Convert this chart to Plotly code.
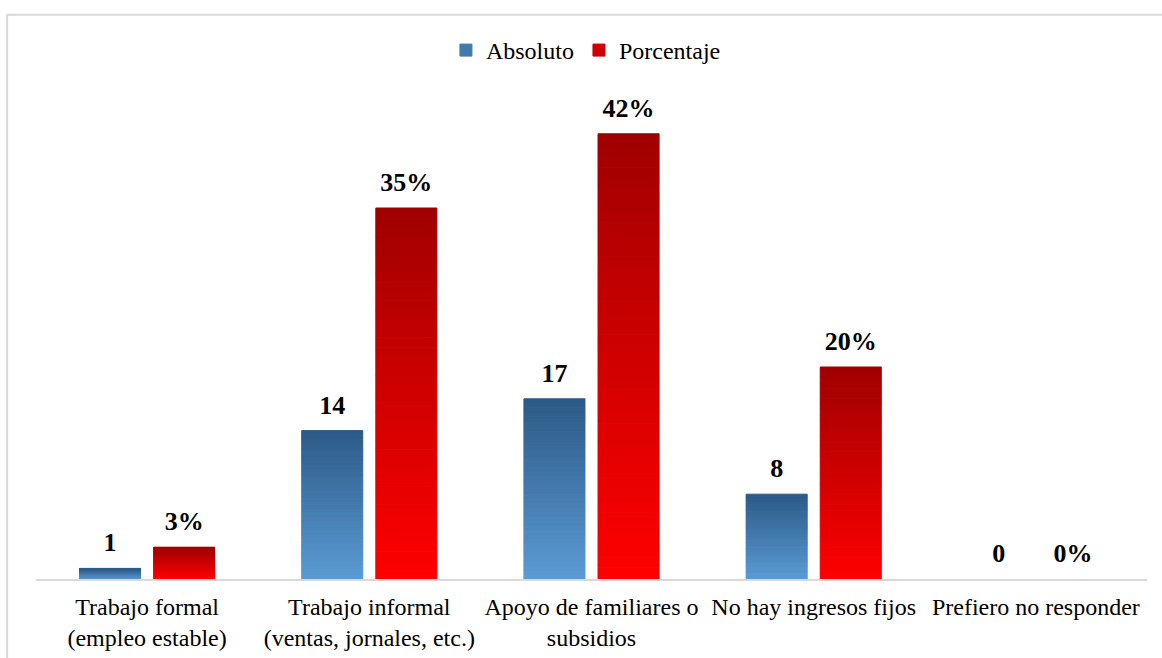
import plotly.graph_objects as go

categories = [
    "Trabajo formal<br>(empleo estable)",
    "Trabajo informal<br>(ventas, jornales, etc.)",
    "Apoyo de familiares o<br>subsidios",
    "No hay ingresos fijos",
    "Prefiero no responder",
]
absoluto = [1, 14, 17, 8, 0]
porcentaje = [3, 35, 42, 20, 0]
absoluto_labels = ["1", "14", "17", "8", "0"]
porcentaje_labels = ["3%", "35%", "42%", "20%", "0%"]

FONT = "Liberation Serif, Times New Roman, serif"
N_STEPS = 40
LABEL_PAD = 0.75  # extra space (axis units) between bar top and its label


def hex_to_rgb(h):
    h = h.lstrip("#")
    return tuple(int(h[i:i + 2], 16) for i in (0, 2, 4))


def mix(c_bottom, c_top, t):
    a, b = hex_to_rgb(c_bottom), hex_to_rgb(c_top)
    r = [round(a[k] + (b[k] - a[k]) * t) for k in range(3)]
    return f"rgb({r[0]},{r[1]},{r[2]})"


series = [
    ("Absoluto", absoluto, absoluto_labels, "#5b9bd5", "#2c5a86", "abs"),
    ("Porcentaje", porcentaje, porcentaje_labels, "#ff0000", "#a00000", "pct"),
]

fig = go.Figure()
for name, vals, labels, c_bot, c_top, og in series:
    seam_widths = [1 if v > 0 else 0 for v in vals]
    for i in range(N_STEPS):
        t = (i + 0.5) / N_STEPS
        col = mix(c_bot, c_top, t)
        fig.add_trace(go.Bar(
            x=categories,
            y=[v / N_STEPS for v in vals],
            base=[v * i / N_STEPS for v in vals],
            offsetgroup=og,
            marker=dict(color=col, line=dict(width=seam_widths, color=col)),
            name=name,
            legendgroup=name,
            showlegend=(i == N_STEPS // 2),
            hoverinfo="skip",
        ))
    fig.add_trace(go.Bar(
        x=categories,
        y=[v + LABEL_PAD for v in vals],
        offsetgroup=og,
        marker=dict(color="rgba(0,0,0,0)", line=dict(width=0)),
        text=labels,
        textposition="outside",
        textfont=dict(family=FONT, size=26, color="#000000", weight="bold"),
        cliponaxis=False,
        constraintext="none",
        name=name,
        legendgroup=name,
        showlegend=False,
        hovertemplate=name + ": %{text}<extra></extra>",
    ))

fig.update_layout(
    width=1162,
    height=658,
    barmode="group",
    bargap=0.333,
    bargroupgap=0.176,
    plot_bgcolor="white",
    paper_bgcolor="white",
    margin=dict(l=36, r=15, t=102, b=79, autoexpand=False),
    font=dict(family=FONT, size=24, color="#000000"),
    showlegend=True,
    legend=dict(
        orientation="h",
        x=0.495, xanchor="center",
        y=1.108, yanchor="middle",
        font=dict(family=FONT, size=24, color="#000000"),
        itemclick=False,
        itemwidth=30,
    ),
    xaxis=dict(
        showline=True,
        linecolor="#d9d9d9",
        linewidth=2,
        ticks="",
        ticklabelstandoff=5,
        automargin=False,
        showgrid=False,
        tickfont=dict(family=FONT, size=24, color="#000000"),
    ),
    yaxis=dict(
        range=[0, 45],
        visible=False,
        automargin=False,
        showgrid=False,
        zeroline=False,
    ),
    shapes=[dict(
        type="rect",
        xref="paper", yref="paper",
        x0=-0.026, x1=1.05, y0=-0.3, y1=1.183,
        line=dict(color="#d9d9d9", width=2),
        fillcolor="rgba(0,0,0,0)",
        layer="below",
    )],
)

fig.write_html(
    "out.html",
    config={"displayModeBar": False},
    post_script="document.body.style.margin='0';document.body.style.padding='0';",
)
